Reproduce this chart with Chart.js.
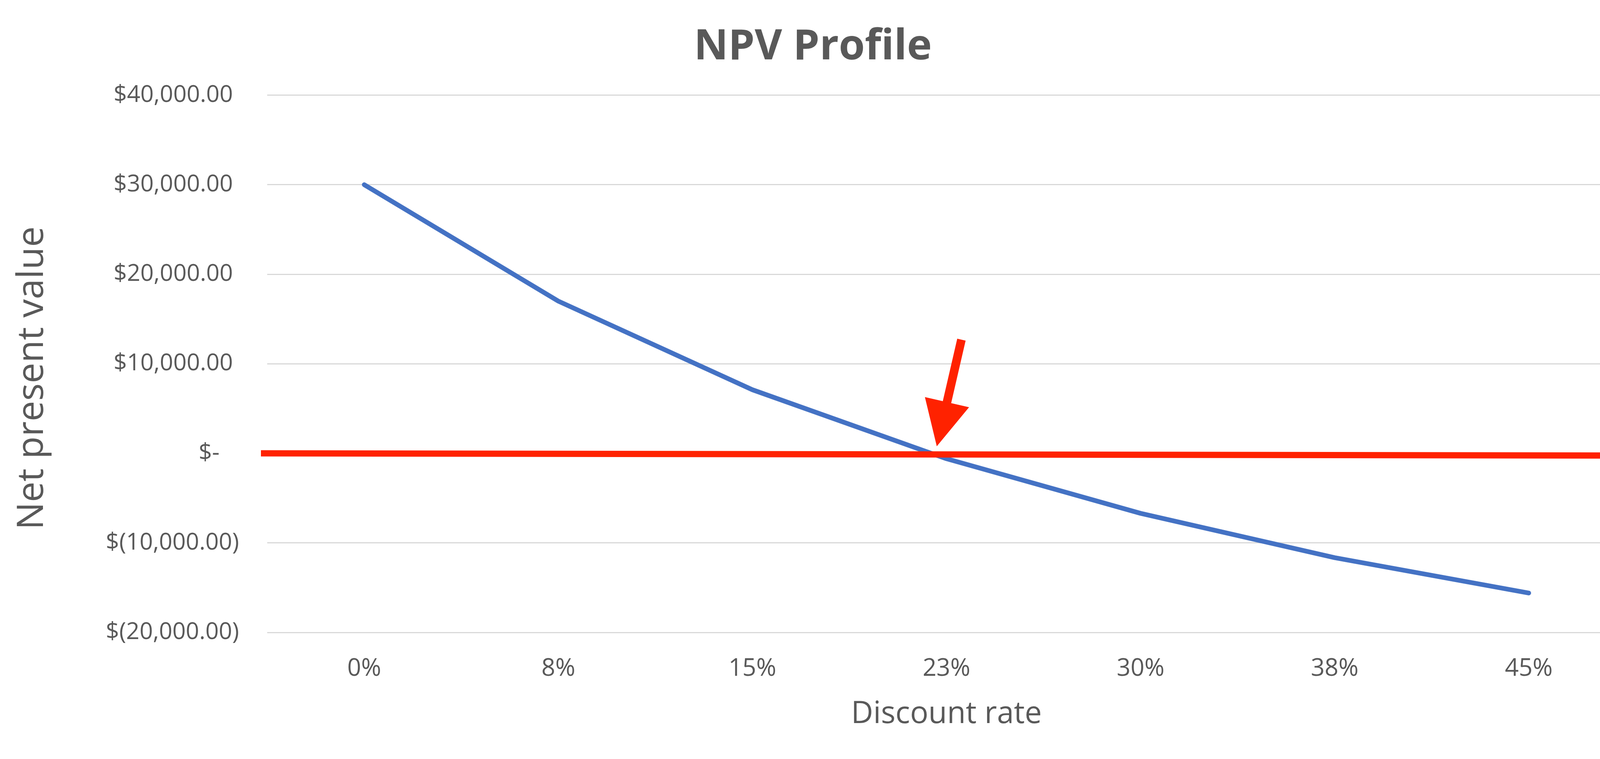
<!DOCTYPE html>
<html>
<head>
<meta charset="utf-8">
<script src="https://cdn.jsdelivr.net/npm/chart.js@4.4.1/dist/chart.umd.min.js"></script>
<style>
  html, body { margin: 0; padding: 0; background: #fff; }
  canvas { display: block; }
</style>
</head>
<body>
<canvas id="npvChart" width="4189" height="1943"></canvas>
<script>
// data
const rates = ["0%", "8%", "15%", "23%", "30%", "38%", "45%"];
const npvValues = [30000, 17000, 7100, -600, -6700, -11650, -15600];
const yTicks = [-20000, -10000, 0, 10000, 20000, 30000, 40000];

// hand drawn marks on the picture, in chart units (category index, value)
const zeroLineValues = [0, -250];
const arrowTail = { x: 3.077, y: 12700 };
const arrowTip = { x: 2.95, y: 785 };

const textColor = "#595959";
const redColor = "#FF2200";

function money(v) {
  const s = Math.abs(v).toLocaleString("en-US", {
    minimumFractionDigits: 2,
    maximumFractionDigits: 2,
  });
  if (v === 0) return "$- \u2007";
  if (v < 0) return "$(" + s + ")";
  return "$" + s + " ";
}

// red zero line and red arrow drawn over the series
const markupPlugin = {
  id: "markup",
  afterDatasetsDraw(chart) {
    const { ctx, scales, chartArea } = chart;
    const x = scales.x;
    const y = scales.y;
    ctx.save();

    // zero line, runs a bit past the plot area on both sides
    ctx.strokeStyle = redColor;
    ctx.lineWidth = 16;
    ctx.beginPath();
    ctx.moveTo(chartArea.left - 16, y.getPixelForValue(zeroLineValues[0]));
    ctx.lineTo(chart.width - 8, y.getPixelForValue(zeroLineValues[1]));
    ctx.stroke();

    // arrow
    const tx = x.getPixelForValue(arrowTail.x);
    const ty = y.getPixelForValue(arrowTail.y);
    const hx = x.getPixelForValue(arrowTip.x);
    const hy = y.getPixelForValue(arrowTip.y);
    const len = Math.hypot(hx - tx, hy - ty);
    const ux = (hx - tx) / len;
    const uy = (hy - ty) / len;
    const px = -uy;
    const py = ux;
    const headLen = 116;
    const headHalf = 58;
    const shaftHalf = 11;
    const bx = hx - ux * headLen;
    const by = hy - uy * headLen;
    ctx.fillStyle = redColor;
    ctx.beginPath();
    ctx.moveTo(tx + px * shaftHalf, ty + py * shaftHalf);
    ctx.lineTo(bx + px * shaftHalf, by + py * shaftHalf);
    ctx.lineTo(bx + px * headHalf, by + py * headHalf);
    ctx.lineTo(hx, hy);
    ctx.lineTo(bx - px * headHalf, by - py * headHalf);
    ctx.lineTo(bx - px * shaftHalf, by - py * shaftHalf);
    ctx.lineTo(tx - px * shaftHalf, ty - py * shaftHalf);
    ctx.closePath();
    ctx.fill();

    ctx.restore();
  },
};

const canvas = document.getElementById("npvChart");

new Chart(canvas, {
  type: "line",
  data: {
    labels: rates,
    datasets: [
      {
        label: "NPV",
        data: npvValues,
        borderColor: "#4472C4",
        borderWidth: 12,
        borderCapStyle: "round",
        borderJoinStyle: "round",
        pointRadius: 0,
        tension: 0,
        fill: false,
      },
    ],
  },
  options: {
    responsive: false,
    devicePixelRatio: 1,
    animation: false,
    layout: {
      padding: { top: 0, left: 0, right: 27, bottom: 0 },
    },
    plugins: {
      legend: { display: false },
      tooltip: { enabled: false },
      title: {
        display: true,
        text: "NPV Profile",
        color: textColor,
        font: { family: "Open Sans", size: 108, weight: "bold" },
        padding: { top: 56, bottom: 58 },
      },
    },
    scales: {
      x: {
        offset: true,
        grid: { display: false, drawTicks: false },
        border: { display: false },
        ticks: {
          color: textColor,
          font: { family: "Open Sans", size: 62 },
          padding: 56,
        },
        title: {
          display: true,
          text: "Discount rate",
          color: textColor,
          font: { family: "Open Sans", size: 78 },
          padding: { top: 0, bottom: 67 },
        },
        afterFit(scale) {
          scale.height = 324;
        },
      },
      y: {
        min: -20000,
        max: 40000,
        afterBuildTicks(scale) {
          scale.ticks = yTicks.map((v) => ({ value: v }));
        },
        grid: { color: "#D9D9D9", lineWidth: 3, drawTicks: false },
        border: { display: false },
        ticks: {
          color: textColor,
          font: { family: "Open Sans", size: 60 },
          padding: 72,
          callback: (v) => money(v),
        },
        title: {
          display: true,
          // trailing spaces push the title a little below the plot centre, as in the original
          text: "Net present value   ",
          color: textColor,
          font: { family: "Open Sans", size: 94 },
          padding: { top: 27, bottom: 0 },
        },
        afterFit(scale) {
          scale.width = 684;
        },
      },
    },
  },
  plugins: [markupPlugin],
});
</script>
</body>
</html>
